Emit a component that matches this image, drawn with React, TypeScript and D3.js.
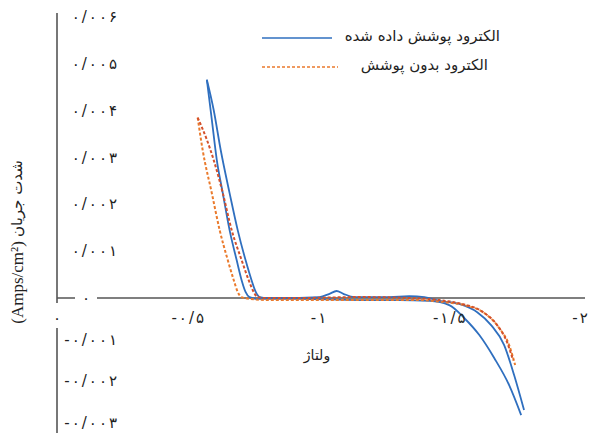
import React from "react";
import * as d3 from "d3";

// Axis ticks (voltage in V, current density in A/cm²)
const xTicks = [0, -0.5, -1, -1.5, -2];
const xTickLabels = ["۰", "-۰/۵", "-۱", "-۱/۵", "-۲"];
const yTicks = [-0.003, -0.002, -0.001, 0, 0.001, 0.002, 0.003, 0.004, 0.005, 0.006];
const yTickLabels = ["-۰/۰۰۳", "-۰/۰۰۲", "-۰/۰۰۱", "۰", "۰/۰۰۱", "۰/۰۰۲", "۰/۰۰۳", "۰/۰۰۴", "۰/۰۰۵", "۰/۰۰۶"];

// Coated electrode – first branch
const coatedAV = [-0.573, -0.592, -0.611, -0.634, -0.66, -0.687, -0.706, -0.721, -0.736, -0.767, -0.927, -1.156, -1.309, -1.424, -1.5, -1.557, -1.615, -1.672, -1.729, -1.775];
const coatedAI = [0.00466, 0.00381, 0.00295, 0.00224, 0.00145, 0.00081, 0.00038, 0.00013, 0.00002, -0.00002, -0.00002, -0.00005, -0.00005, -0.00007, -0.00017, -0.00048, -0.00089, -0.00144, -0.00209, -0.00281];

// Coated electrode – second branch
const coatedBV = [-0.573, -0.599, -0.626, -0.66, -0.691, -0.721, -0.744, -0.76, -0.775, -0.805, -0.851, -1.004, -1.042, -1.069, -1.095, -1.137, -1.271, -1.347, -1.405, -1.462, -1.538, -1.607, -1.66, -1.71, -1.748, -1.786];
const coatedBI = [0.00466, 0.00402, 0.00316, 0.00224, 0.00145, 0.00081, 0.00038, 0.00013, 0.00002, 0, 0, 0.00002, 0.00009, 0.00015, 0.00009, 0.00002, 0.00002, 0.00004, 0.00002, -0.00007, -0.00014, -0.00034, -0.00065, -0.00113, -0.00185, -0.00269];

// Uncoated electrode – first branch
const bareAV = [-0.538, -0.557, -0.592, -0.622, -0.653, -0.676, -0.691, -0.706, -0.737, -0.813, -1.118, -1.385, -1.481, -1.557, -1.634, -1.691, -1.729, -1.752];
const bareAI = [0.00385, 0.00316, 0.00224, 0.00145, 0.00081, 0.00038, 0.00013, 0.00002, -0.00002, -0.00005, -0.00005, -0.00005, -0.0001, -0.00017, -0.00036, -0.00072, -0.00113, -0.00161];

// Uncoated electrode – second branch
const bareBV = [-0.538, -0.573, -0.599, -0.634, -0.668, -0.706, -0.733, -0.752, -0.767, -0.798, -0.927, -1.156, -1.347, -1.462, -1.546, -1.622, -1.683, -1.721, -1.744];
const bareBI = [0.00385, 0.00338, 0.00295, 0.00224, 0.00145, 0.00081, 0.00038, 0.00013, 0.00002, 0, 0, 0.00002, 0, -0.00005, -0.00014, -0.00031, -0.00065, -0.00106, -0.00149];

const legendLabels = ["الکترود پوشش داده شده", "الکترود بدون پوشش"];
const xTitle = "ولتاژ";
const yTitleFa = "شدت جریان";
const yTitleEn = "(Amps/cm²)";

const W = 590;
const H = 439;
const FA = "DejaVu Sans";

const x = d3.scaleLinear().domain([0, -2]).range([57, 580]);
const y = d3.scaleLinear().domain([-0.003, 0, 0.006]).range([423, 298, 17]);

const line = d3
  .line<[number, number]>()
  .x((d) => x(d[0]))
  .y((d) => y(d[1]))
  .curve(d3.curveMonotoneX);

const zip = (vs: number[], is: number[]) => vs.map((v, i) => [v, is[i]] as [number, number]);

const BLUE = "#2F6FBF";
const ORANGE = "#EA7A2C";
const RED = "#D4502A";

const series = [
  { pts: zip(coatedAV, coatedAI), color: BLUE, dash: null, w: 1.8 },
  { pts: zip(coatedBV, coatedBI), color: BLUE, dash: null, w: 1.8 },
  { pts: zip(bareAV, bareAI), color: ORANGE, dash: "3 2", w: 2 },
  { pts: zip(bareBV, bareBI), color: RED, dash: "3 2", w: 2 },
];

// Persian digits are set with a little extra room between characters
const GAP = 2;
const spaced = (s: string) =>
  Array.from(s)
    .map((_, i) => (i === 0 ? 0 : GAP))
    .join(" ");
const tickStyle = { fontFamily: FA, fontSize: 15, fill: "#222" };

export default function App() {
  const x0 = x(0);
  const y0 = y(0);
  return (
    <svg width={W} height={H} style={{ position: "absolute", left: 0, top: 0, background: "#fff" }}>
      <rect width={W} height={H} fill="#fff" />
      {/* axes */}
      <line x1={x0} x2={x0} y1={13} y2={433} stroke="#555" strokeWidth={1.6} />
      <line x1={x0} x2={585} y1={y0} y2={y0} stroke="#555" strokeWidth={1.6} />

      {/* data */}
      {series.map((s, i) => (
        <path
          key={i}
          d={line(s.pts) || ""}
          fill="none"
          stroke={s.color}
          strokeWidth={s.w}
          strokeDasharray={s.dash || undefined}
        />
      ))}

      {/* y tick labels */}
      {yTicks.map((t, i) =>
        t === 0 ? (
          <g key={i}>
            <rect x={75} y={y(t) - 6} width={22} height={12} fill="#fff" />
            <text x={86} y={y(t)} textAnchor="middle" dominantBaseline="central" {...tickStyle}>
              {yTickLabels[i]}
            </text>
          </g>
        ) : (
          <text key={i} x={117} y={y(t)} dx={spaced(yTickLabels[i])} textAnchor="end" dominantBaseline="central" {...tickStyle}>
            {yTickLabels[i]}
          </text>
        )
      )}

      {/* x tick labels */}
      {xTicks.map((t, i) =>
        t === 0 ? (
          <g key={i}>
            <rect x={x(t) - 5} y={303} width={10} height={25} fill="#fff" />
            <text x={x(t)} y={318} textAnchor="middle" dominantBaseline="central" {...tickStyle}>
              {xTickLabels[i]}
            </text>
          </g>
        ) : (
          <text key={i} x={x(t)} y={318} dx={spaced(xTickLabels[i])} textAnchor="middle" dominantBaseline="central" {...tickStyle}>
            {xTickLabels[i]}
          </text>
        )
      )}

      {/* axis titles */}
      <text x={317} y={355} textAnchor="middle" dominantBaseline="central" fontFamily={FA} fontSize={14} fill="#222">
        {xTitle}
      </text>
      <text
        transform="translate(17,242) rotate(-90)"
        textAnchor="middle"
        dominantBaseline="central"
        direction="rtl"
        fill="#222"
      >
        <tspan fontFamily={FA} fontSize={15}>{yTitleFa}</tspan>
        <tspan fontFamily="Liberation Serif" fontSize={17}> {yTitleEn}</tspan>
      </text>

      {/* legend */}
      <line x1={262} x2={332} y1={38} y2={38} stroke={BLUE} strokeWidth={1.6} />
      <text x={500} y={36} textAnchor="end" dominantBaseline="central" fontFamily={FA} fontSize={15} fill="#222">
        {legendLabels[0]}
      </text>
      <line x1={262} x2={338} y1={67} y2={67} stroke={ORANGE} strokeWidth={1.6} strokeDasharray="3 2" />
      <text x={488} y={65} textAnchor="end" dominantBaseline="central" fontFamily={FA} fontSize={15} fill="#222">
        {legendLabels[1]}
      </text>
    </svg>
  );
}
